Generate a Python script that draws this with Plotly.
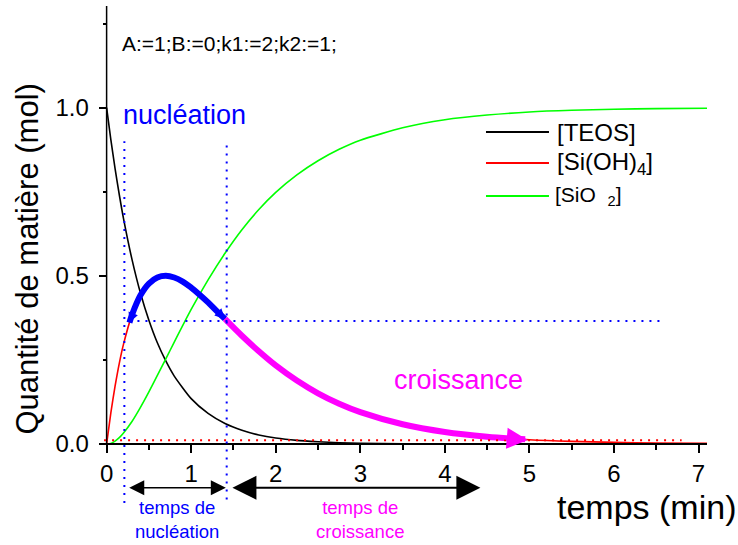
import plotly.graph_objects as go

# ---- data ----
t = [0, 0.05, 0.1, 0.15, 0.2, 0.3, 0.4, 0.5, 0.6, 0.7, 0.8,
     1.0, 1.2, 1.4, 1.6, 1.8, 2.0, 2.25, 2.5, 2.75, 3.0,
     3.5, 4.0, 4.5, 5.0, 5.5, 6.0, 6.5, 7.1]
teos = [1, .905, .819, .741, .670, .549, .449, .368, .301, .247, .202,
        .135, .091, .061, .041, .027, .018, .011, .007, .004, .0025,
        .0009, .0003, .0001, 0, 0, 0, 0, 0]
sioh4 = [0, .093, .172, .240, .297, .384, .442, .477, .495, .500, .495,
         .465, .421, .372, .322, .276, .234, .189, .151, .120, .095,
         .059, .036, .022, .013, .008, .005, .003, .002]
sio2 = [0, .002, .009, .019, .033, .067, .109, .155, .204, .253, .303,
        .400, .488, .567, .637, .697, .748, .800, .842, .876, .903,
        .940, .964, .978, .987, .992, .995, .997, .998]

# highlighted portions of [Si(OH)4]
t_nuc = [0.27, 0.3, 0.4, 0.5, 0.6, 0.7, 0.8, 0.9, 1.0, 1.1, 1.2, 1.3, 1.4]
b_nuc = [.361, .384, .442, .477, .495, .500, .495, .483, .465, .444, .421, .396, .372]
t_cro = [1.4, 1.6, 1.8, 2.0, 2.25, 2.5, 2.75, 3.0, 3.5, 4.0, 4.5, 4.95]
b_cro = [.372, .322, .276, .234, .189, .151, .120, .095, .059, .036, .022, .014]

series_names = ["[TEOS]", "[Si(OH)<sub>4</sub>]", "[SiO&nbsp;&nbsp;<sub>2</sub>]"]
series_colors = ["black", "#FF0000", "#00FF00"]
legend_sizes = [24, 24, 21]

# reference markers
t_nuc_start, t_nuc_end = 0.21, 1.42
level_1e = 0.366
level_zero = 0.011
x_ticks = [0, 1, 2, 3, 4, 5, 6, 7]
x_minor = [0.5, 1.5, 2.5, 3.5, 4.5, 5.5, 6.5]
y_ticks = [0, 0.5, 1.0]
y_ticktext = ["0.0", "0.5", "1.0"]
y_minor = [0.25, 0.75, 1.25]

FONT = "Arial, Liberation Sans, sans-serif"
BLUE = "#0000FF"
MAG = "#FF00FF"

fig = go.Figure()
for ys, nm, col in zip([teos, sioh4, sio2], series_names, series_colors):
    fig.add_trace(go.Scatter(x=t, y=ys, mode="lines", name=nm, showlegend=False,
                             line=dict(color=col, width=1.6, shape="spline", smoothing=0.6)))
fig.add_trace(go.Scatter(x=t_nuc, y=b_nuc, mode="lines", showlegend=False,
                         line=dict(color=BLUE, width=6, shape="spline")))
fig.add_trace(go.Scatter(x=t_cro, y=b_cro, mode="lines", showlegend=False,
                         line=dict(color=MAG, width=6, shape="spline")))

dotted = "2px,6px"
shapes = [
    dict(type="line", x0=0, x1=0, y0=0, y1=1.302, line=dict(color="black", width=1.5)),
    dict(type="line", x0=t_nuc_start, x1=t_nuc_start, y0=-0.175, y1=0.9,
         line=dict(color=BLUE, width=2, dash=dotted)),
    dict(type="line", x0=t_nuc_end, x1=t_nuc_end, y0=-0.165, y1=0.9,
         line=dict(color=BLUE, width=2, dash=dotted)),
    dict(type="line", x0=0.27, x1=6.54, y0=level_1e, y1=level_1e,
         line=dict(color=BLUE, width=2, dash=dotted)),
    dict(type="line", x0=-0.03, x1=6.8, y0=level_zero, y1=level_zero,
         line=dict(color="#FF0000", width=2, dash=dotted)),
]

ann = []
def arrow(x, y, ax, ay, color, width, size, side="end"):
    ann.append(dict(x=x, y=y, ax=ax, ay=ay, xref="x", yref="y", axref="x", ayref="y",
                    text="", showarrow=True, arrowhead=2, arrowcolor=color,
                    arrowwidth=width, arrowsize=size, arrowside=side, standoff=0, startstandoff=0))

arrow(t_nuc[0], b_nuc[0], t_nuc[2], b_nuc[2], BLUE, 2, 1.0)
arrow(t_nuc[-1], b_nuc[-1], t_nuc[-3], b_nuc[-3], BLUE, 2, 1.0)
arrow(t_cro[-1] + 0.03, b_cro[-1] - 0.002, t_cro[-2], b_cro[-2], MAG, 3, 1.4)
arrow(t_nuc_end - 0.01, -0.13, 0.25, -0.13, "black", 1.5, 2, "end+start")
arrow(4.42, -0.13, 1.47, -0.13, "black", 2, 2.4, "end+start")

def text(x, y, s, size, color="black", xanchor="left", xref="x", yref="y", angle=0):
    ann.append(dict(x=x, y=y, xref=xref, yref=yref, text=s, showarrow=False,
                    xanchor=xanchor, yanchor="middle", textangle=angle,
                    font=dict(family=FONT, size=size, color=color)))

text(0.154, 1.192, "A:=1;B:=0;k1:=2;k2:=1;", 21)
text(0.17, 0.978, "nucléation", 27, BLUE)
text(3.38, 0.191, "croissance", 27, MAG)
text(0.83, -0.225, "temps de<br>nucléation", 18.5, BLUE, "center")
text(3.0, -0.225, "temps de<br>croissance", 18.5, MAG, "center")
text(6.39, -0.186, "temps (min)", 34, "black", "center")
text(-0.118, 0.53, "Quantité de matière (mol)", 31, "black", "center", "paper", "paper", -90)

# legend drawn by hand (long line samples as in the reference)
leg_rows = [0.7662, 0.7087, 0.6475]
leg_text_x = [0.7500, 0.7500, 0.7470]
for nm, col, yy, sz, tx in zip(series_names, series_colors, leg_rows, legend_sizes, leg_text_x):
    shapes.append(dict(type="line", xref="paper", yref="paper", x0=0.6365, x1=0.7401,
                       y0=yy, y1=yy, line=dict(color=col, width=2)))
    text(tx, yy, nm, sz, "black", "left", "paper", "paper")

fig.update_layout(
    width=738, height=545,
    margin=dict(l=99, r=31, t=6, b=0),
    plot_bgcolor="white", paper_bgcolor="white",
    font=dict(family=FONT, color="black"),
    shapes=shapes, annotations=ann,
    showlegend=False,
    xaxis=dict(range=[-0.09, 7.1], anchor="free", position=0.3 / 1.602,
               tickvals=x_ticks, ticks="outside", ticklen=8, tickwidth=1.5,
               tickcolor="black", showline=True, linecolor="black", linewidth=1.5,
               showgrid=False, zeroline=False, tickfont=dict(size=24),
               minor=dict(tickvals=x_minor, ticks="outside", ticklen=5,
                          tickwidth=1.5, tickcolor="black")),
    yaxis=dict(range=[-0.3, 1.302], anchor="free", position=0.09 / 7.19,
               tickvals=y_ticks, ticktext=y_ticktext, ticks="outside", ticklen=8,
               tickwidth=1.5, tickcolor="black", showline=False,
               showgrid=False, zeroline=False, tickfont=dict(size=24),
               ticklabelstandoff=5,
               minor=dict(tickvals=y_minor, ticks="outside", ticklen=4,
                          tickwidth=1.5, tickcolor="black")),
)

fig.write_html("out.html", config={"displayModeBar": False},
               post_script="document.body.style.margin='0';")
